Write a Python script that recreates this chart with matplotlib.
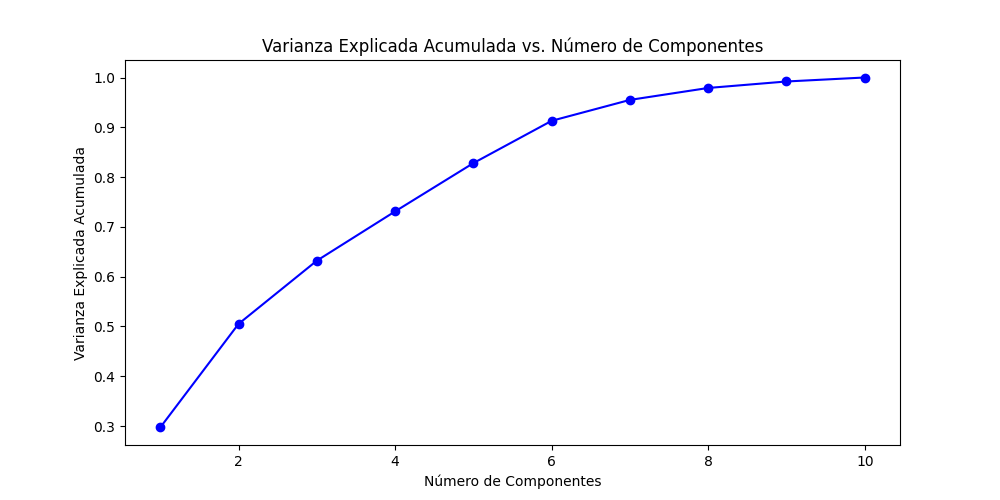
import matplotlib
matplotlib.use("Agg")
import matplotlib.pyplot as plt

componentes = [1, 2, 3, 4, 5, 6, 7, 8, 9, 10]
varianza_acumulada = [0.297, 0.505, 0.632, 0.731, 0.828, 0.913, 0.955, 0.979, 0.992, 1.0]

fig, ax = plt.subplots(figsize=(10, 5), dpi=100)
ax.plot(componentes, varianza_acumulada, marker='o', linestyle='-', color='b')
ax.set_title('Varianza Explicada Acumulada vs. Número de Componentes')
ax.set_xlabel('Número de Componentes')
ax.set_ylabel('Varianza Explicada Acumulada')
fig.savefig('out.png')
